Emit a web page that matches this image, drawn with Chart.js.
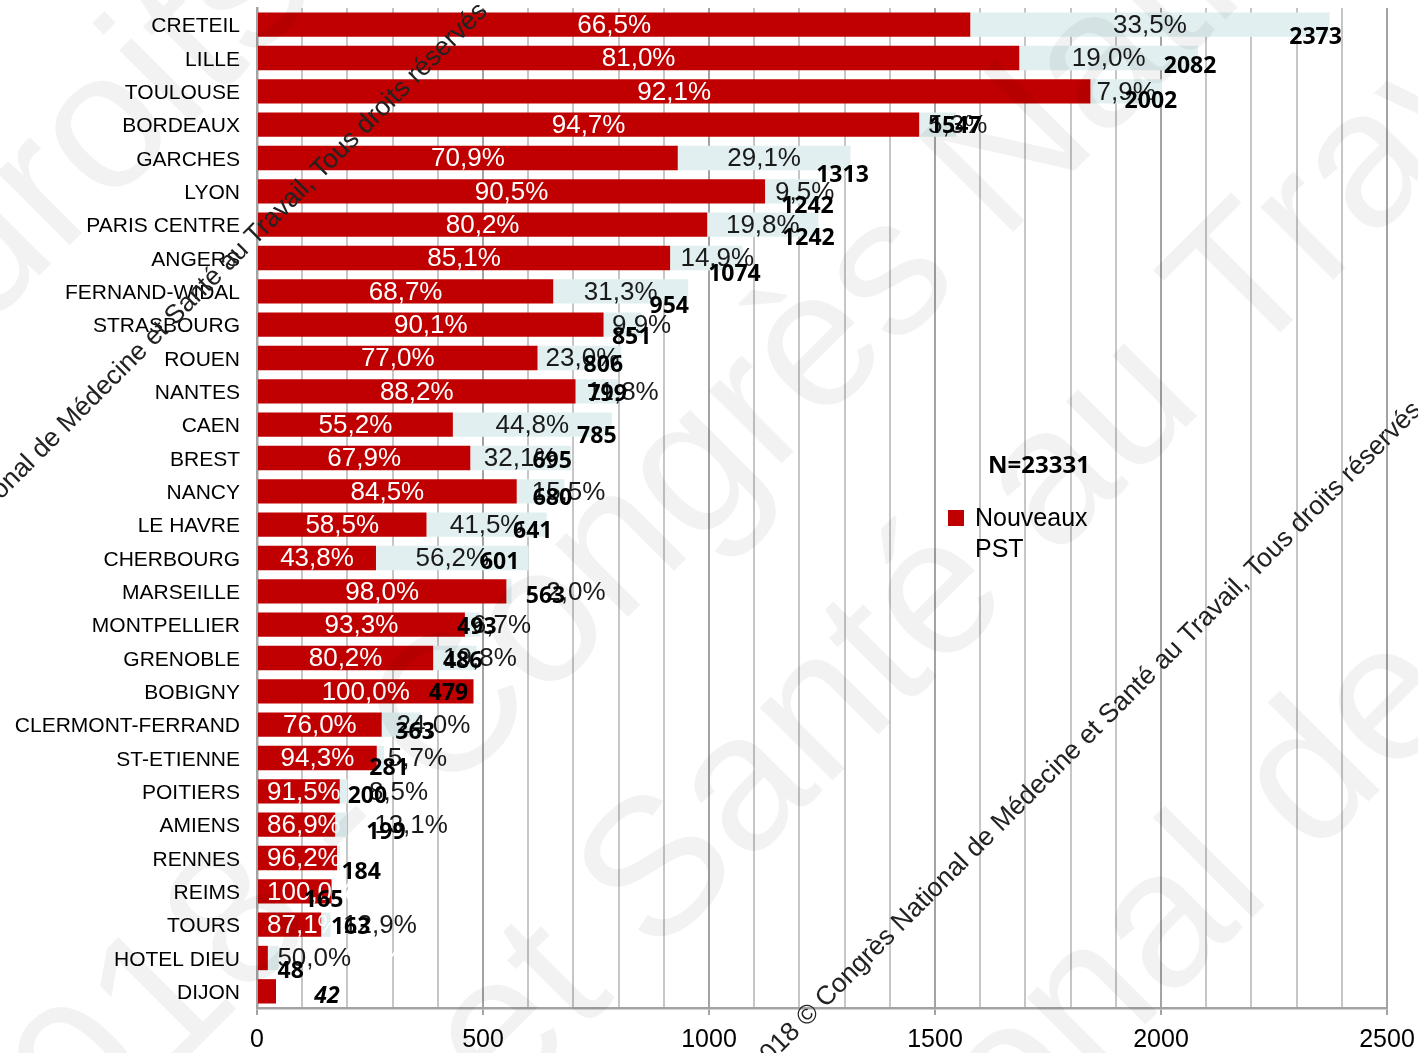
<!DOCTYPE html>
<html>
<head>
<meta charset="utf-8">
<script src="https://cdn.jsdelivr.net/npm/chart.js@4.4.1/dist/chart.umd.min.js"></script>
<style>
  html, body { margin: 0; padding: 0; background: #ffffff; }
  #wrap { width: 1418px; height: 1053px; position: relative; }
</style>
</head>
<body>
<div id="wrap"><canvas id="chart" width="1418" height="1053"></canvas></div>
<script>
// Services, total number of files, share of new PST and share of the rest
const categories = ['CRETEIL', 'LILLE', 'TOULOUSE', 'BORDEAUX', 'GARCHES', 'LYON', 'PARIS CENTRE', 'ANGERS',
  'FERNAND-WIDAL', 'STRASBOURG', 'ROUEN', 'NANTES', 'CAEN', 'BREST', 'NANCY', 'LE HAVRE', 'CHERBOURG',
  'MARSEILLE', 'MONTPELLIER', 'GRENOBLE', 'BOBIGNY', 'CLERMONT-FERRAND', 'ST-ETIENNE', 'POITIERS',
  'AMIENS', 'RENNES', 'REIMS', 'TOURS', 'HOTEL DIEU', 'DIJON'];
const totals = [2373, 2082, 2002, 1547, 1313, 1242, 1242, 1074, 954, 851, 806, 799, 785, 695, 680, 641, 601,
  563, 493, 486, 479, 363, 281, 200, 199, 184, 165, 163, 48, 42];
const pctNew = [66.5, 81.0, 92.1, 94.7, 70.9, 90.5, 80.2, 85.1, 68.7, 90.1, 77.0, 88.2, 55.2, 67.9, 84.5, 58.5,
  43.8, 98.0, 93.3, 80.2, 100.0, 76.0, 94.3, 91.5, 86.9, 96.2, 100.0, 87.1, 50.0, 100.0];
const pctOther = [33.5, 19.0, 7.9, 5.3, 29.1, 9.5, 19.8, 14.9, 31.3, 9.9, 23.0, 11.8, 44.8, 32.1, 15.5, 41.5,
  56.2, 2.0, 6.7, 19.8, 0.0, 24.0, 5.7, 8.5, 13.1, 3.8, 0.0, 12.9, 50.0, 0.0];
const sampleSize = 23331;
const tickValues = [0, 500, 1000, 1500, 2000, 2500];

// Rows whose percentage labels are left out
const noNewLabel = ['DIJON'];
const noOtherLabel = ['BOBIGNY', 'RENNES', 'REIMS', 'DIJON'];

// Hand placement of the labels (pixel nudges)
const newLabelDx = [0,0,0,0,0,0,0,0,0,0,0,0,0,0,0,0,0,0,0,0,0,0,0,0,0,0,0,0,103,0];
const otherLabelDx = [0,0,0,20,0,13,0,11,0,19,3,26,0,0,28,0,0,67,29,25,0,32,37,55,70,0,0,54,41,0];
const totalDx = [-14,-8,-11,-1,-8,-11,-10,-8,-19,-10,-18,-11,-15,-19,-12,-14,-29,34,-3,-14,-25,-6,5,20,39,21,-8,20,12,51];
const totalDy = [13,8,10,2,17,15,14,16,15,13,7,3,12,3,7,7,4,5,3,3,2,8,10,5,8,14,9,3,13,5];

const valuesNew = totals.map((t, i) => t * pctNew[i] / 100);
const valuesOther = totals.map((t, i) => t * pctOther[i] / 100);

const RED = '#c00000';
const PALE = '#e1eff0';
const SANS = '"Liberation Sans", Arial, sans-serif';

const fmtPct = v => v.toFixed(1).replace('.', ',') + '%';

const labelPlugin = {
  id: 'barLabels',
  afterDatasetsDraw(chart) {
    const ctx = chart.ctx;
    const xs = chart.scales.x;
    const area = chart.chartArea;
    const barsNew = chart.getDatasetMeta(0).data;
    const barsOther = chart.getDatasetMeta(1).data;
    ctx.save();
    ctx.textBaseline = 'middle';
    ctx.textAlign = 'center';
    ctx.font = '26px ' + SANS;
    categories.forEach((cat, i) => {
      const b = barsNew[i];
      if (noNewLabel.includes(cat)) return;
      const t = fmtPct(pctNew[i]);
      const w = ctx.measureText(t).width;
      let cx = (b.x + b.base) / 2 + newLabelDx[i];
      cx = Math.max(cx, area.left + 10 + w / 2);
      ctx.fillStyle = '#ffffff';
      ctx.fillText(t, cx, b.y + 1);
    });
    categories.forEach((cat, i) => {
      const b = barsOther[i];
      if (noOtherLabel.includes(cat)) return;
      const t = fmtPct(pctOther[i]);
      const cx = (b.x + b.base) / 2 + otherLabelDx[i];
      ctx.fillStyle = '#1a1a1a';
      ctx.fillText(t, cx, b.y + 1);
    });
    categories.forEach((cat, i) => {
      const b = barsNew[i];
      const cx = xs.getPixelForValue(totals[i]) + totalDx[i];
      ctx.font = (cat === 'DIJON' ? 'italic ' : '') + 'bold 23px "Open Sans", "Noto Sans", sans-serif';
      ctx.fillStyle = '#000000';
      ctx.fillText(String(totals[i]), cx, b.y + totalDy[i]);
    });
    ctx.restore();
  }
};

// Sample size and legend entry
const notePlugin = {
  id: 'notes',
  afterDraw(chart) {
    const ctx = chart.ctx;
    ctx.save();
    ctx.textBaseline = 'middle';
    ctx.textAlign = 'center';
    ctx.fillStyle = '#000000';
    ctx.font = 'bold 24px "Open Sans", "Noto Sans", sans-serif';
    ctx.fillText('N=' + sampleSize, 1039, 466);
    ctx.fillStyle = chart.data.datasets[0].backgroundColor;
    ctx.fillRect(948, 510, 16, 16);
    ctx.fillStyle = '#000000';
    ctx.textAlign = 'left';
    ctx.font = '25px ' + SANS;
    const words = chart.data.datasets[0].label.split(' ');
    ctx.fillText(words[0], 975, 519);
    ctx.fillText(words[1], 975, 550);
    ctx.restore();
  }
};

// Copyright marks across the page
const markText = '2018 © Congrès National de Médecine et Santé au Travail, Tous droits réservés';
const markLines = [ { x: 255, y: 246 }, { x: 1189, y: 645 } ];
const bigRows = [
  { text: 'Tous droits réservés', x: -346, y: 661 },
  { text: '2018 - Congrès National de Médecine', x: 13, y: 1232 },
  { text: 'et Santé au Travail', x: 501, y: 1112 },
  { text: 'National de Médecine', x: 768, y: 1402 }
];
const markPlugin = {
  id: 'marks',
  afterDraw(chart) {
    const ctx = chart.ctx;
    ctx.save();
    ctx.textBaseline = 'alphabetic';
    ctx.textAlign = 'left';
    ctx.font = '195px ' + SANS;
    ctx.fillStyle = 'rgba(0,0,0,0.05)';
    bigRows.forEach(r => {
      ctx.save();
      ctx.translate(r.x, r.y);
      ctx.rotate(-Math.PI / 4);
      ctx.fillText(r.text, 0, 0);
      ctx.restore();
    });
    ctx.font = '26.5px ' + SANS;
    ctx.fillStyle = '#222222';
    const pre = markText.slice(0, markText.indexOf('Travail'));
    const preW = ctx.measureText(pre).width;
    markLines.forEach(p => {
      ctx.save();
      ctx.translate(p.x, p.y);
      ctx.rotate(-Math.PI / 4);
      ctx.fillText(markText, -preW, 0);
      ctx.restore();
    });
    ctx.restore();
  }
};

const ctx = document.getElementById('chart').getContext('2d');
new Chart(ctx, {
  type: 'bar',
  data: {
    labels: categories,
    datasets: [
      { label: 'Nouveaux PST', data: valuesNew, backgroundColor: RED, borderWidth: 0,
        categoryPercentage: 0.73, barPercentage: 1.0 },
      { label: 'Autres PST', data: valuesOther, backgroundColor: PALE, borderWidth: 0,
        categoryPercentage: 0.73, barPercentage: 1.0 }
    ]
  },
  options: {
    indexAxis: 'y',
    responsive: false,
    animation: false,
    devicePixelRatio: 1,
    layout: { padding: { top: 8, right: 31, left: 0, bottom: 0 } },
    plugins: { legend: { display: false }, tooltip: { enabled: false } },
    scales: {
      x: {
        stacked: true,
        min: 0,
        max: 2500,
        afterFit: s => { s.height = 45; s.paddingLeft = 0; s.paddingRight = 0; },
        afterBuildTicks: s => { s.ticks = []; for (let v = 0; v <= 2500; v += 100) s.ticks.push({ value: v }); },
        ticks: {
          autoSkip: false,
          maxRotation: 0,
          padding: 10,
          color: '#000000',
          font: { family: SANS, size: 25 },
          callback: v => tickValues.includes(v) ? String(v) : ''
        },
        grid: {
          color: c => (c.tick && c.tick.value % 500 === 0) ? '#a3a3a3' : '#c6c6c6',
          tickColor: c => (c.tick && c.tick.value % 500 === 0) ? '#a3a3a3' : 'rgba(0,0,0,0)',
          lineWidth: 2,
          tickLength: 7
        },
        border: { color: '#a3a3a3', width: 2.5 }
      },
      y: {
        stacked: true,
        afterFit: s => { s.width = 257; s.paddingTop = 0; s.paddingBottom = 0; },
        ticks: {
          padding: 17,
          labelOffset: 2,
          color: '#000000',
          font: { family: SANS, size: 21 },
          autoSkip: false
        },
        grid: { display: false, drawTicks: false },
        border: { color: '#a3a3a3', width: 2.5 }
      }
    }
  },
  plugins: [labelPlugin, notePlugin, markPlugin]
});
</script>
</body>
</html>
